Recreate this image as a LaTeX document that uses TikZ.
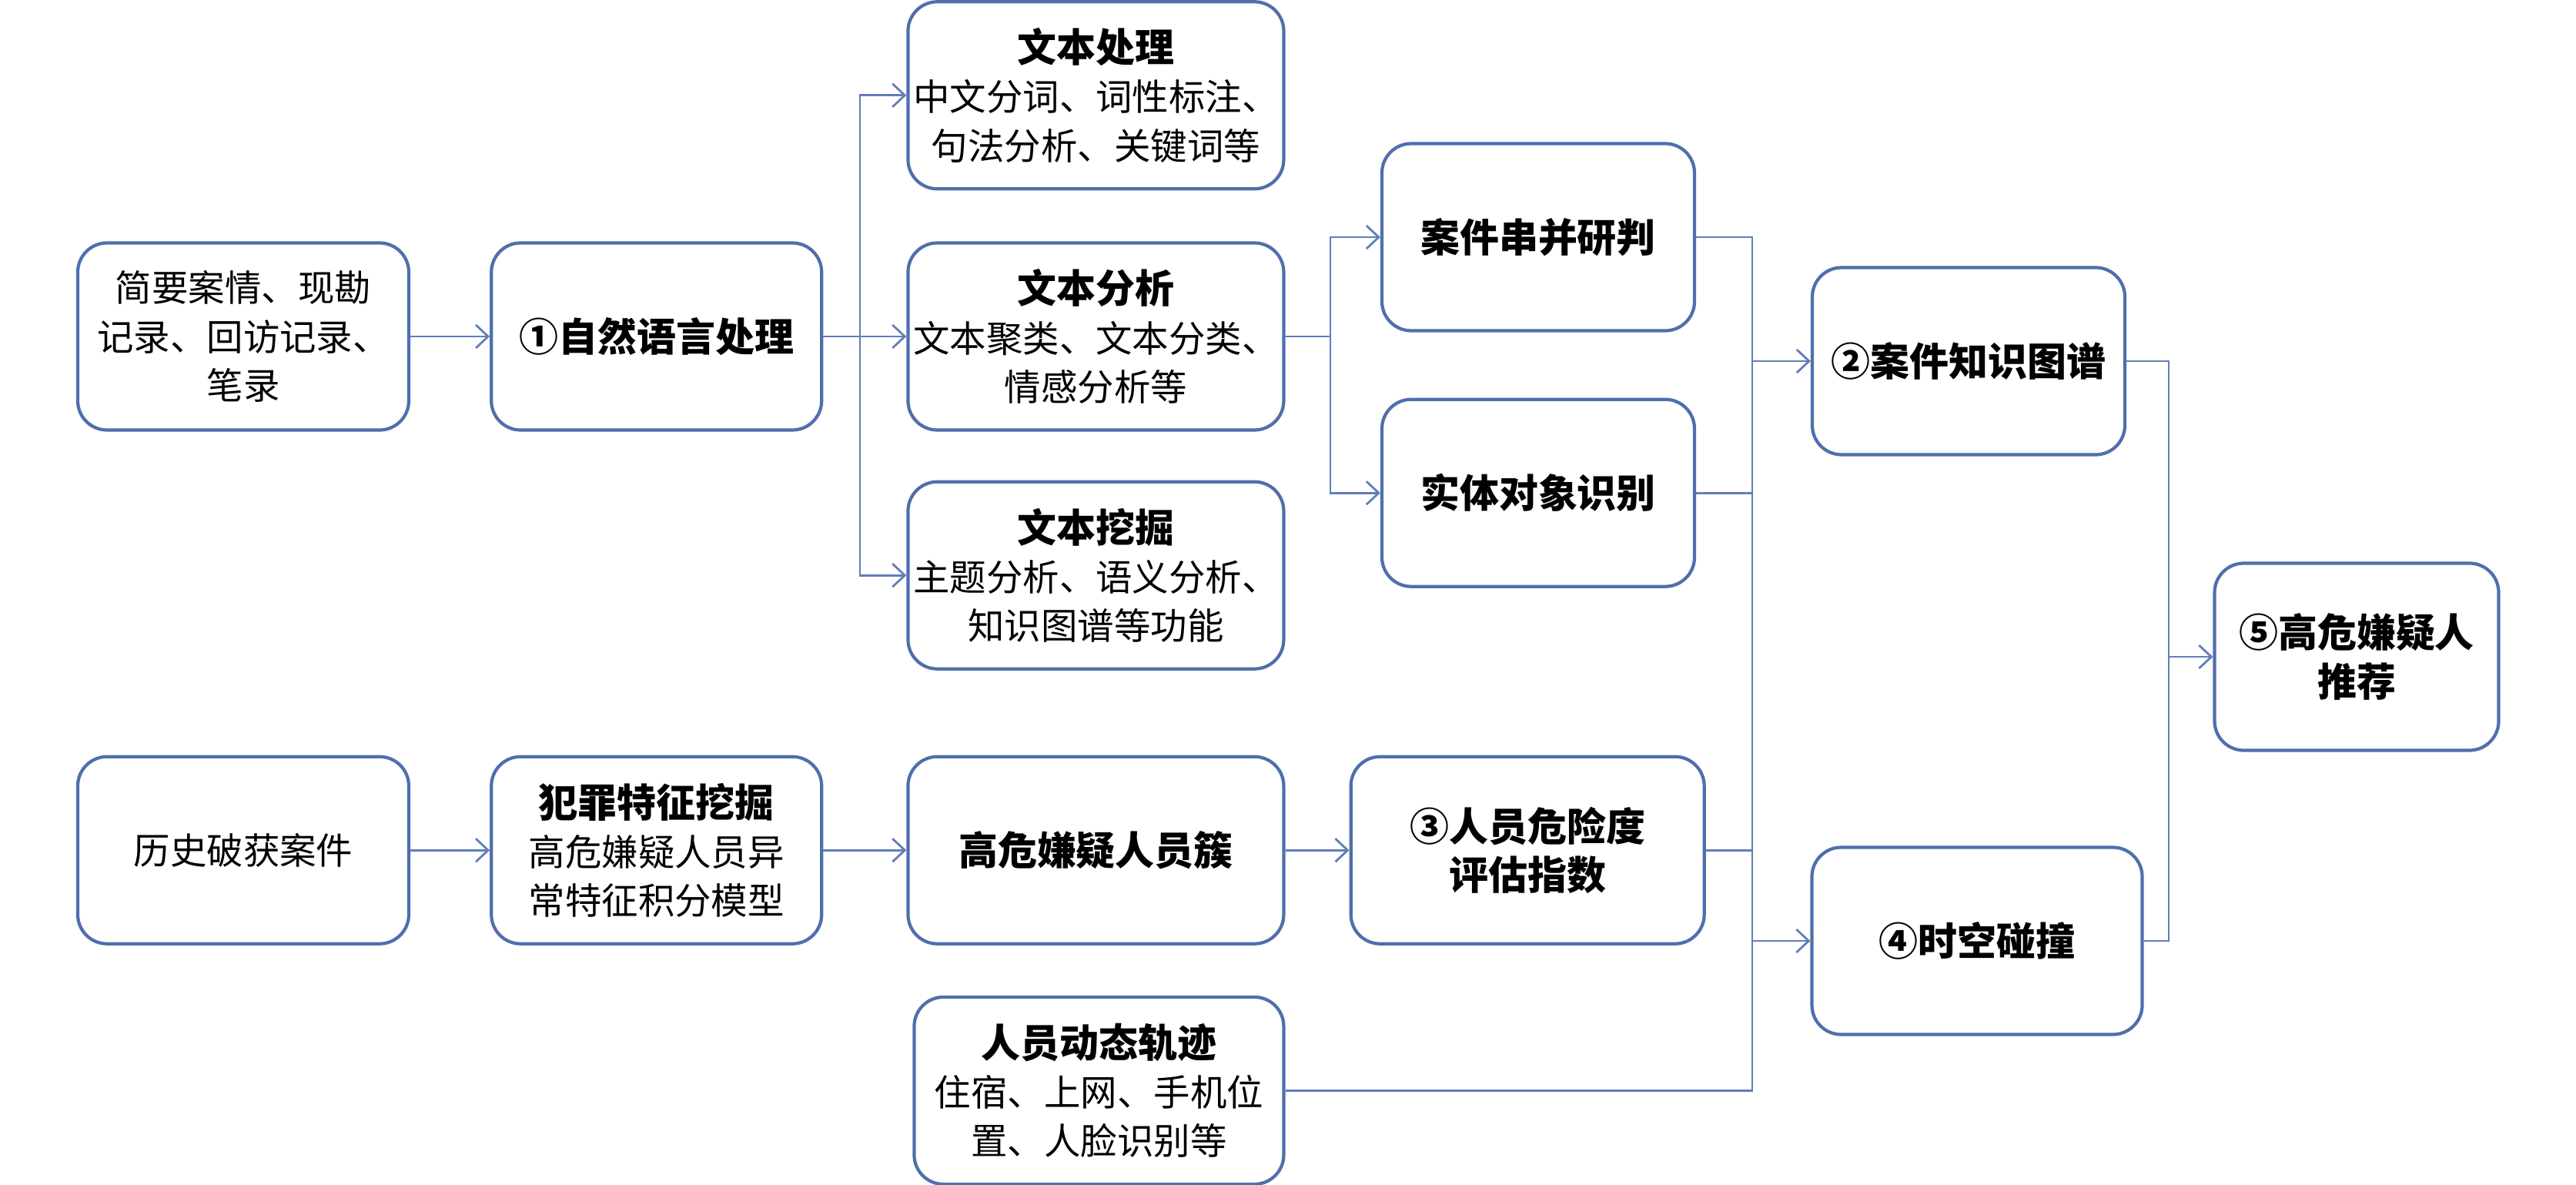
\documentclass[tikz,border=0pt]{standalone}
\usepackage{fontspec}
\usepackage{xcolor}
\usetikzlibrary{positioning,arrows.meta}
\newfontfamily\cjk{Noto Sans CJK SC}
\definecolor{boxblue}{RGB}{79,111,172}
\definecolor{lineblue}{RGB}{98,126,186}
\tikzset{>={Straight Barb[length=1.6mm,width=3mm]}}
\newcommand{\hd}[1]{{\bfseries\fontsize{14.5}{18}\selectfont #1}}

\begin{document}
\begin{tikzpicture}[
    every node/.style={draw=boxblue, line width=1.2pt, rectangle, rounded corners=0.38cm,
        minimum height=2.43cm, inner xsep=0pt, align=center,
        font=\cjk\fontsize{13.5}{18}\selectfont},
    link/.style={draw=lineblue, line width=0.8pt}
]
    \useasboundingbox (0,0) rectangle (33.46,-15.39);

    % Nodes
    \node[minimum width=4.30cm] (Records) at (3.16,-4.37) {简要案情、现勘\\记录、回访记录、\\笔录};
    \node[minimum width=4.29cm] (NLP) [right=1.03cm of Records] {\hd{①自然语言处理}};
    \node[minimum width=4.88cm] (TextAnal) [right=1.08cm of NLP] {\hd{文本分析}\\文本聚类、文本分类、\\情感分析等};
    \node[minimum width=4.88cm] (TextProc) [above=0.66cm of TextAnal] {\hd{文本处理}\\中文分词、词性标注、\\句法分析、关键词等};
    \node[minimum width=4.88cm] (TextMining) [below=0.63cm of TextAnal] {\hd{文本挖掘}\\主题分析、语义分析、\\知识图谱等功能};
    \node[minimum width=4.06cm] (CaseLink) at (19.98,-3.08) {\hd{案件串并研判}};
    \node[minimum width=4.06cm] (Entity) [below=0.85cm of CaseLink] {\hd{实体对象识别}};
    \node[minimum width=4.06cm] (CaseKG) at (25.57,-4.69) {\hd{②案件知识图谱}};
    \node[minimum width=3.69cm] (Recommend) at (30.61,-8.53) {\hd{⑤高危嫌疑人}\\\hd{推荐}};

    \node[minimum width=4.30cm] (History) [below=4.2cm of Records] {历史破获案件};
    \node[minimum width=4.29cm] (FeatureMining) [right=1.03cm of History] {\hd{犯罪特征挖掘}\\高危嫌疑人员异\\常特征积分模型};
    \node[minimum width=4.88cm] (Cluster) [right=1.08cm of FeatureMining] {\hd{高危嫌疑人员簇}};
    \node[minimum width=4.59cm] (RiskIndex) [right=0.83cm of Cluster] {\hd{③人员危险度}\\\hd{评估指数}};
    \node[minimum width=4.80cm] (Trajectory) [below=0.65cm of Cluster, xshift=0.04cm] {\hd{人员动态轨迹}\\住宿、上网、手机位\\置、人脸识别等};
    \node[minimum width=4.29cm] (Collision) at (25.68,-12.22) {\hd{④时空碰撞}};

    % Junctions
    \coordinate (j1) at (11.17,0);
    \coordinate (j2) at (17.28,0);
    \coordinate (j3) at (22.76,0);
    \coordinate (j4) at (28.17,0);

    % Arrows
    \draw[link,->] (Records) -- (NLP);
    \draw[link,->] (NLP) -- (TextAnal);
    \draw[link,->] (NLP.east -| j1) |- (TextProc.west);
    \draw[link,->] (NLP.east -| j1) |- (TextMining.west);

    \draw[link] (TextAnal.east) -- (TextAnal.east -| j2);
    \draw[link,->] (TextAnal.east -| j2) |- (CaseLink.west);
    \draw[link,->] (TextAnal.east -| j2) |- (Entity.west);

    \draw[link] (CaseLink.east) -| (Trajectory.east -| j3) -- (Trajectory.east);
    \draw[link] (Entity.east) -- (Entity.east -| j3);
    \draw[link] (RiskIndex.east) -- (RiskIndex.east -| j3);
    \draw[link,->] (CaseKG.west -| j3) -- (CaseKG.west);
    \draw[link,->] (Collision.west -| j3) -- (Collision.west);

    \draw[link] (CaseKG.east) -| (Collision.east -| j4) -- (Collision.east);
    \draw[link,->] (Recommend.west -| j4) -- (Recommend.west);

    \draw[link,->] (History) -- (FeatureMining);
    \draw[link,->] (FeatureMining) -- (Cluster);
    \draw[link,->] (Cluster) -- (RiskIndex);
\end{tikzpicture}
\end{document}
